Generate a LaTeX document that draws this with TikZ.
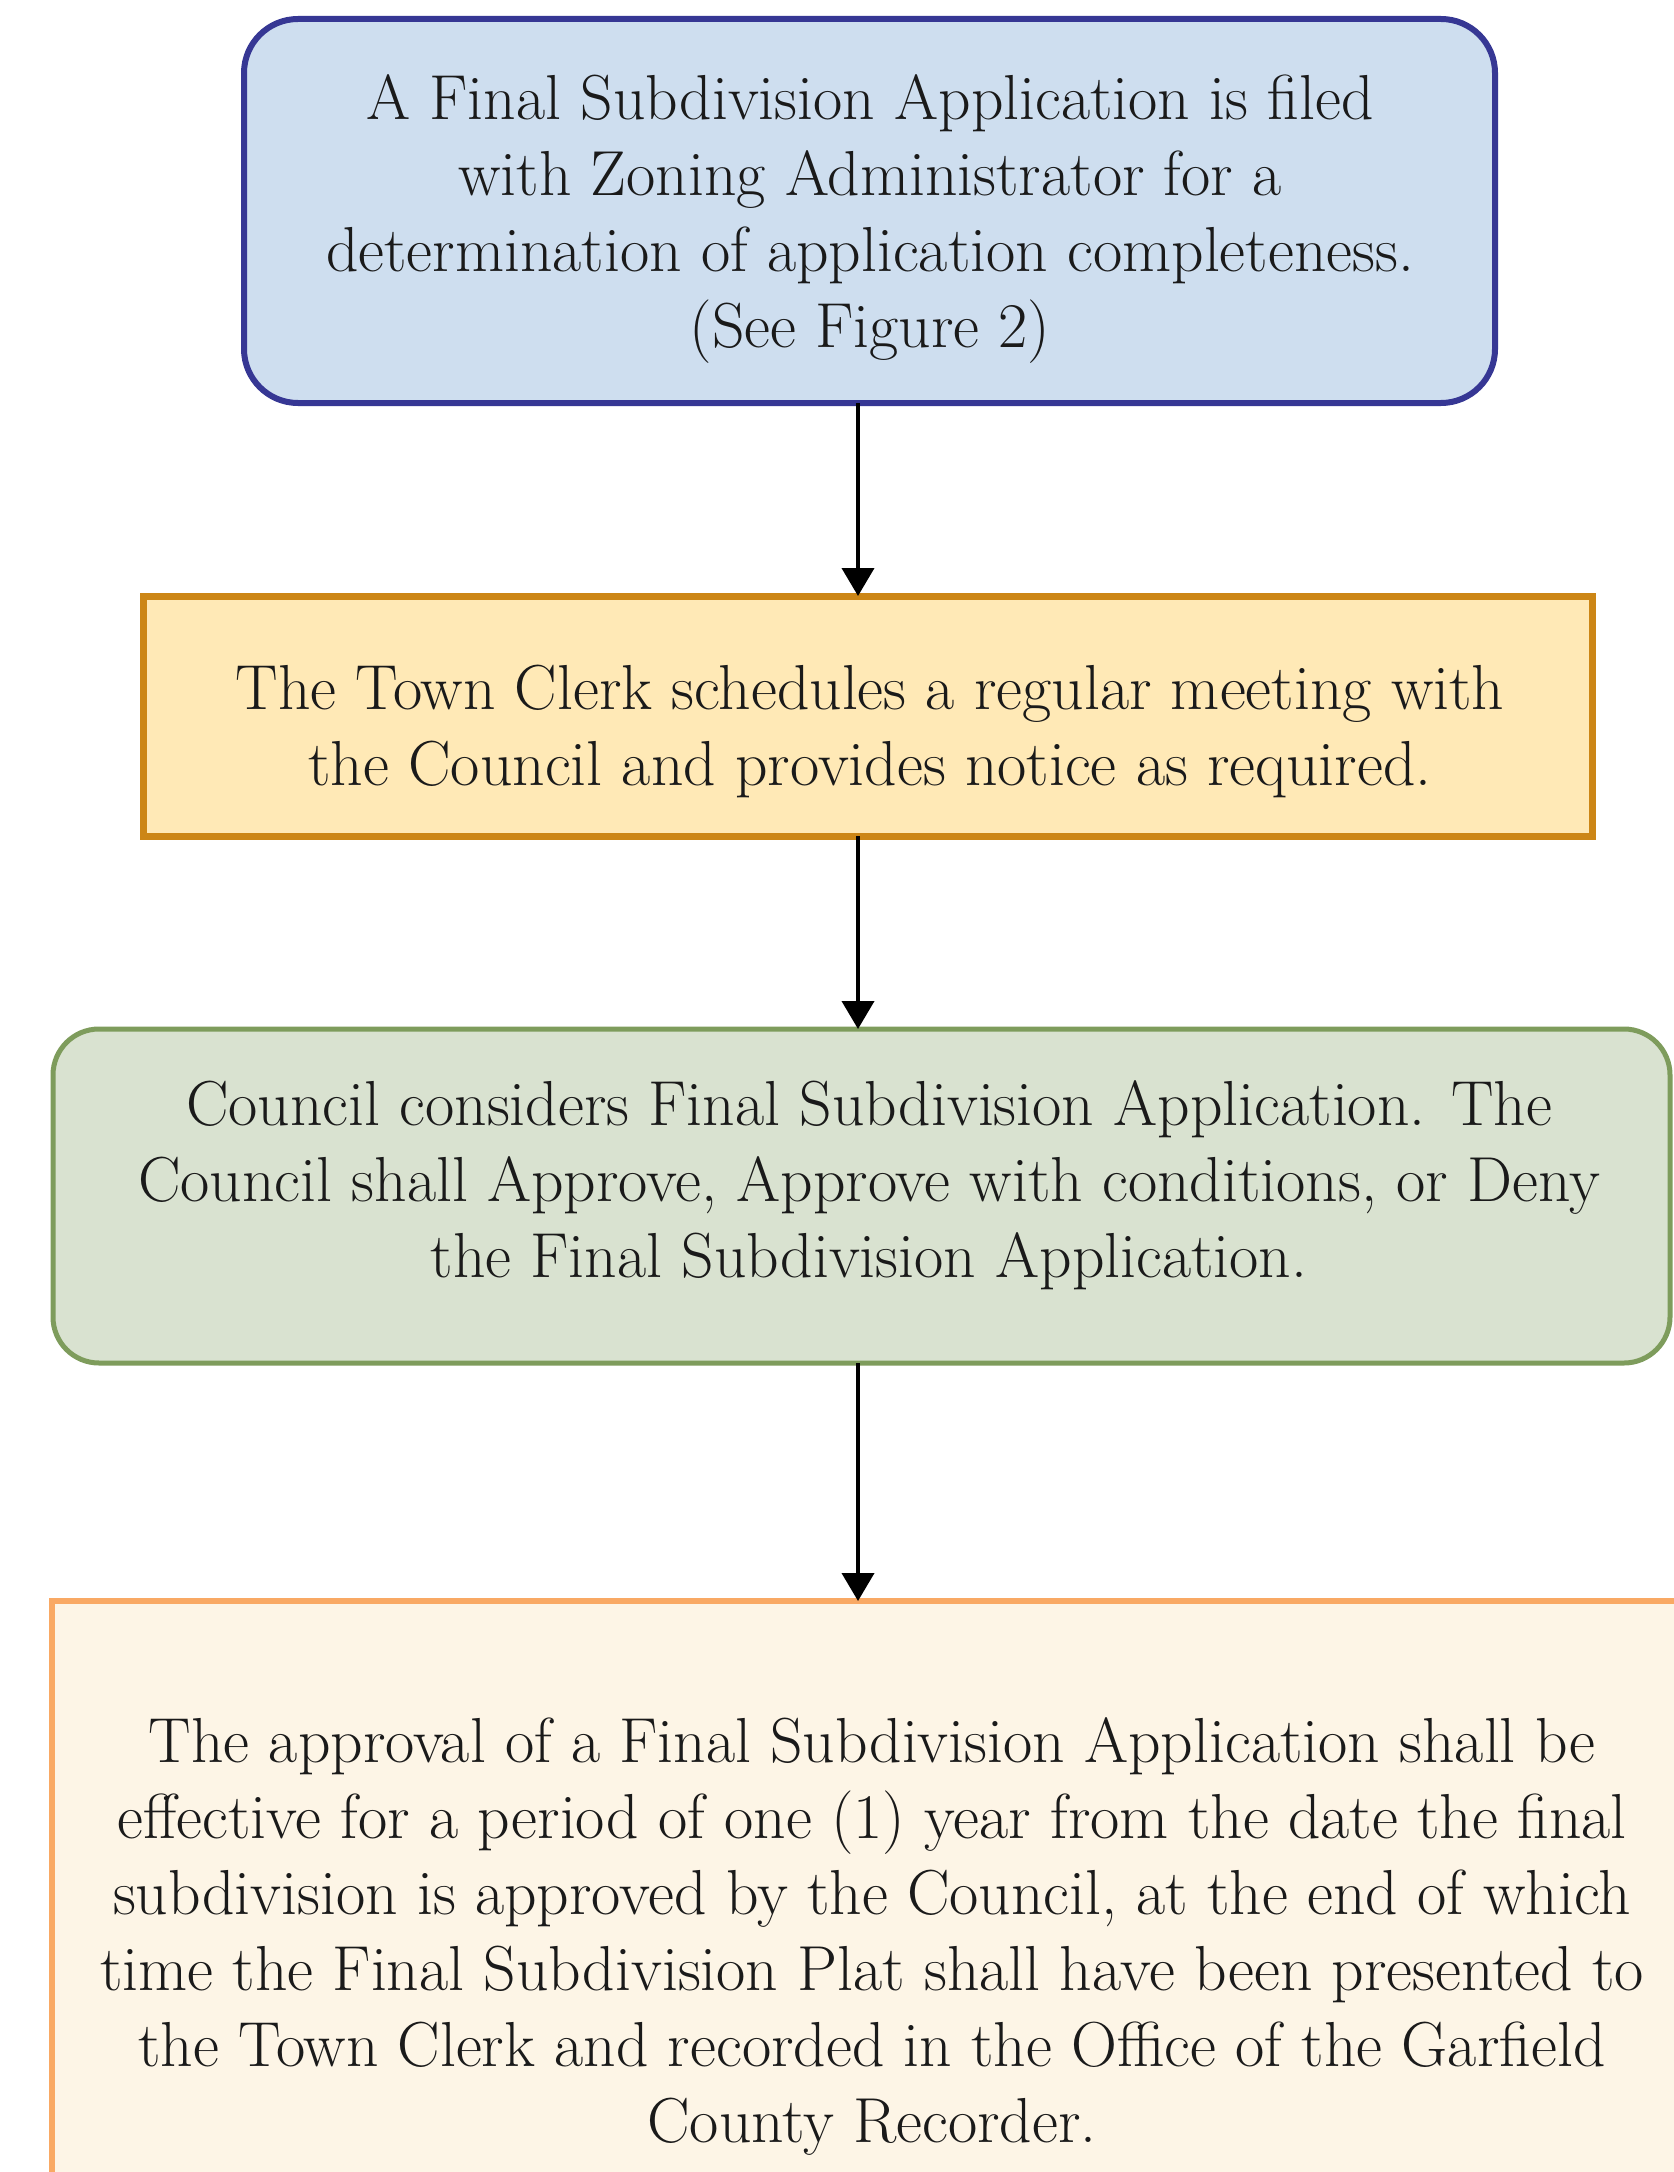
\documentclass[tikz,border=0pt]{standalone}
\usepackage{fontspec}
\usetikzlibrary{arrows.meta,calc}
\definecolor{bluefill}{HTML}{CEDEEF}
\definecolor{blueline}{HTML}{363794}
\definecolor{yelfill}{HTML}{FFE9B6}
\definecolor{yelline}{HTML}{CC8616}
\definecolor{grnfill}{HTML}{D9E2D0}
\definecolor{grnline}{HTML}{7E9C5C}
\definecolor{orgfill}{HTML}{FDF5E6}
\definecolor{orgline}{HTML}{F9A964}
\definecolor{txt}{HTML}{1A1A1A}
\tikzset{
  boxshape/.style={inner sep=0pt, outer sep=0pt},
  txtnode/.style={align=center, text=txt, inner sep=0pt, font=\fontsize{31.8}{38}\selectfont},
  arr/.style={draw=black, line width=2pt, -{Triangle[length=14pt,width=16pt]}}
}
\begin{document}
\begin{tikzpicture}[x=0.5pt,y=-0.5pt]
\useasboundingbox (0,0) rectangle (1674,2172);
\clip (0,0) rectangle (1674,2172);
\fill[white] (0,0) rectangle (1674,2172);
% boxes
\node[boxshape, draw=blueline, fill=bluefill, line width=3pt, rounded corners=27pt,
  minimum width=625.5pt, minimum height=192pt] (b1) at (869.5,211) {};
\node[boxshape, draw=yelline, fill=yelfill, line width=3.5pt,
  minimum width=724.5pt, minimum height=120pt] (b2) at (867.5,716) {};
\node[boxshape, draw=grnline, fill=grnfill, line width=2.5pt, rounded corners=23pt,
  minimum width=808.5pt, minimum height=167pt] (b3) at (861.5,1196) {};
\node[boxshape, draw=orgline, fill=orgfill, line width=3pt,
  minimum width=824pt, minimum height=324.5pt] (b4) at (876,1925.5) {};
% texts
\node[txtnode] (t1) at (870,219) {A Final Subdivision Application is filed\\with Zoning Administrator for a\\determination of application completeness.\\(See Figure 2)};
\node[txtnode] (t2) at (870,731) {The Town Clerk schedules a regular meeting with\\the Council and provides notice as required.};
\node[txtnode] (t3) at (869,1185) {Council considers Final Subdivision Application. The\\Council shall Approve, Approve with conditions, or Deny\\the Final Subdivision Application.};
\node[txtnode] (t4) at (872,1936) {The approval of a Final Subdivision Application shall be\\effective for a period of one (1) year from the date the final\\subdivision is approved by the Council, at the end of which\\time the Final Subdivision Plat shall have been presented to\\the Town Clerk and recorded in the Office of the Garfield\\County Recorder.};
% arrows
\draw[arr] (858,0 |- b1.south) -- (858,0 |- b2.north);
\draw[arr] (858,0 |- b2.south) -- (858,0 |- b3.north);
\draw[arr] (858,0 |- b3.south) -- (858,0 |- b4.north);
\end{tikzpicture}
\end{document}
